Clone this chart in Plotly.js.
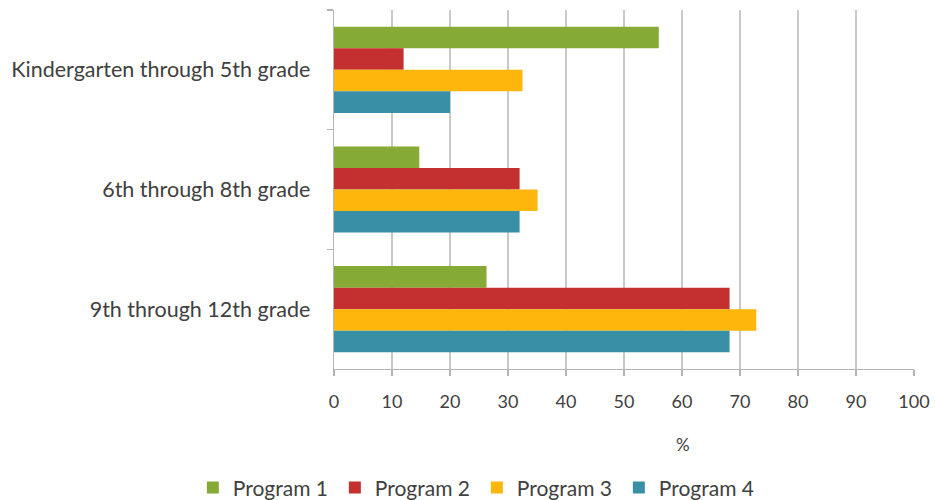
<!DOCTYPE html>
<html>
<head>
<meta charset="utf-8">
<script src="https://cdn.plot.ly/plotly-3.0.1.min.js"></script>
<style>html,body{margin:0;padding:0;background:#fff;}#chart{width:935px;height:500px;}</style>
</head>
<body>
<div id="chart"></div>
<script>
const categories = ["Kindergarten through 5th grade", "6th through 8th grade", "9th through 12th grade"];
const seriesNames = ["Program 1", "Program 2", "Program 3", "Program 4"];
const program1 = [56, 14.7, 26.3];
const program2 = [12, 32, 68.2];
const program3 = [32.5, 35.1, 72.8];
const program4 = [20, 32, 68.2];
const xTicks = [0, 10, 20, 30, 40, 50, 60, 70, 80, 90, 100];
const xTitle = "%";
const colors = ["#86AA36", "#C3302F", "#FDB60C", "#398FA6"];

const values = [program1, program2, program3, program4];
const traces = values.map((v, i) => ({
  type: "bar",
  orientation: "h",
  name: seriesNames[i],
  x: v,
  y: categories,
  marker: {color: colors[i]},
  hoverinfo: "x+name"
}));

const layout = {
  width: 935, height: 500,
  margin: {l: 334, r: 21, t: 10, b: 131, autoexpand: false},
  paper_bgcolor: "#fff", plot_bgcolor: "#fff",
  font: {family: "Lato, 'Open Sans', sans-serif", size: 18, color: "#404040"},
  barmode: "group",
  bargap: 0.28,
  bargroupgap: 0,
  showlegend: true,
  legend: {orientation: "h", xref: "container", x: 0.51, xanchor: "center", y: -0.331, yanchor: "middle",
           font: {size: 21, color: "#404040"}, traceorder: "normal", itemwidth: 30, entrywidth: 97},
  annotations: [{
    text: xTitle, xref: "paper", yref: "paper", x: 0.602, y: -0.21,
    xanchor: "center", yanchor: "middle", showarrow: false,
    font: {size: 17, color: "#404040"}
  }],
  xaxis: {
    range: [0, 100], tickvals: xTicks, ticktext: xTicks.map(String),
    tickfont: {size: 18},
    showgrid: true, gridcolor: "#c8c8c8", gridwidth: 1.3,
    showline: true, linecolor: "#b4b4b4", linewidth: 1.3,
    ticks: "outside", ticklen: 6, tickcolor: "#b4b4b4", tickwidth: 1.3,
    ticklabelstandoff: 10,
    zeroline: false, fixedrange: true
  },
  yaxis: {
    type: "category", autorange: "reversed",
    tickfont: {size: 21.5},
    showgrid: false, showline: true, linecolor: "#b4b4b4", linewidth: 1.3,
    ticks: "outside", tickson: "boundaries", ticklen: 6, tickcolor: "#b4b4b4", tickwidth: 1.3,
    ticklabelstandoff: 18,
    zeroline: false, fixedrange: true
  }
};

Plotly.newPlot("chart", traces, layout, {displayModeBar: false, staticPlot: true});
</script>
</body>
</html>
